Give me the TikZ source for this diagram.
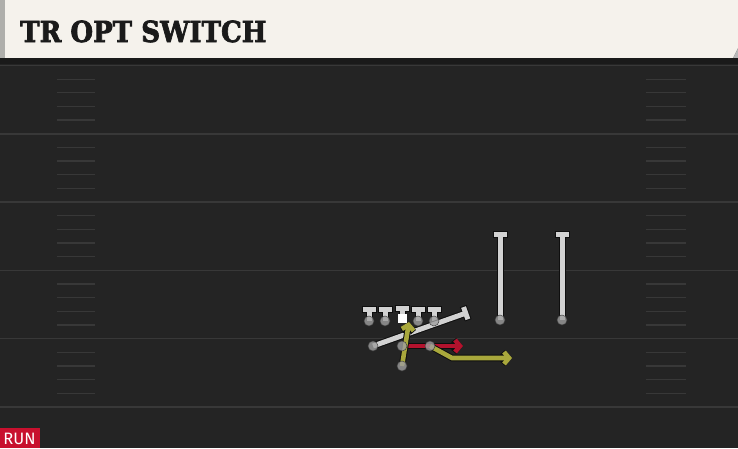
\documentclass[tikz,border=0pt]{standalone}
\usepackage{fontspec}
\usepackage{xcolor}
\usetikzlibrary{arrows.meta, positioning}
\newfontfamily\titlefont{DejaVu Serif}[UprightFont={* Bold}, UprightFeatures={FakeBold=2.5}]
\newfontfamily\tagfont{Fira Sans}
\definecolor{field}{HTML}{242424}
\definecolor{band}{HTML}{1A1A1A}
\definecolor{yardline}{HTML}{383838}
\definecolor{paper}{HTML}{F5F2EC}
\definecolor{paperedge}{HTML}{AFAFAB}
\definecolor{ink}{HTML}{1A1A1A}
\definecolor{edge}{HTML}{0E0E0E}
\definecolor{lightroute}{HTML}{D2D2D2}
\definecolor{redroute}{HTML}{B3122D}
\definecolor{oliveroute}{HTML}{A9A83C}
\definecolor{runred}{HTML}{C8102E}

\tikzset{
  block/.style={draw=#1, line width=5pt, -{Bar[width=13pt, sep=1pt]},
    preaction={draw=edge, line width=7pt, -{Bar[width=15pt]}}},
  run/.style={draw=#1, line width=4.6pt, line join=miter,
    -{Straight Barb[length=5pt, width=12pt]},
    preaction={draw=edge, line width=6.6pt, line join=miter,
      -{Straight Barb[length=5pt, width=12pt]}}},
  player/.style={circle, inner sep=0pt, minimum size=10pt, fill=gray!75,
    draw=gray!50!black, line width=0.5pt, fill opacity=0.8},
  ballbox/.style={rectangle, inner sep=0pt, minimum size=9pt, fill=white}
}

\begin{document}
\begin{tikzpicture}[x=1pt, y=-1pt]
    \useasboundingbox (0,0) rectangle (738,448);
    \fill[field] (0,0) rectangle (738,448);

    % title bar
    \fill[paperedge] (0,0) rectangle (5,58);
    \fill[paper] (5,0) -- (738,0) -- (738,48) -- (733,58) -- (5,58) -- cycle;
    \fill[gray!55] (738,48) -- (733,58) -- (738,58) -- cycle;
    \fill[band] (0,58) rectangle (738,64);
    \node[anchor=base west, inner sep=0pt, text=ink,
      font=\titlefont\fontsize{29}{29}\selectfont] (title) at (20,42) {\scalebox{0.9}[1]{TR OPT SWITCH}};

    % yard lines and hash marks
    \foreach \k in {0,...,5}
      \draw[yardline, line width=1.5pt] (0,65.5+68.3*\k) -- (738,65.5+68.3*\k);
    \foreach \k in {0,...,4}
      \foreach \j in {1,...,4} {
        \draw[yardline, line width=1.3pt] (57,65.5+68.3*\k+13.66*\j) -- (95,65.5+68.3*\k+13.66*\j);
        \draw[yardline, line width=1.3pt] (646,65.5+68.3*\k+13.66*\j) -- (686,65.5+68.3*\k+13.66*\j);
      }

    % players
    \coordinate (lt) at (369,321);
    \coordinate (lg) at (385,321);
    \coordinate (c)  at (402,318);
    \coordinate (rg) at (418,321);
    \coordinate (rt) at (434,321);
    \coordinate (wr1) at (500,320);
    \coordinate (wr2) at (562,320);
    \coordinate (h)  at (373,346);
    \coordinate (qb) at (402,346);
    \coordinate (sl) at (430,346);
    \coordinate (rb) at (402,366);

    % route ends
    \coordinate (ltB) at (369,306);
    \coordinate (lgB) at (385,306);
    \coordinate (cB)  at (402,305);
    \coordinate (rgB) at (418,306);
    \coordinate (rtB) at (434,306);
    \coordinate (wr1B) at (500,231);
    \coordinate (wr2B) at (562,231);
    \coordinate (hB) at (469,312);
    \coordinate (qbE) at (463,346);
    \coordinate (slK) at (452,358);
    \coordinate (slE) at (512,358);
    \coordinate (rbE) at (409,322);

    \foreach \p in {lt,lg,c,rg,rt,wr1,wr2,h}
      \draw[block=lightroute] (\p) -- (\p B);
    \draw[run=redroute] (qb) -- (qbE);
    \draw[run=oliveroute] (sl) -- (slK) -- (slE);
    \draw[run=oliveroute] (rb) -- (rbE);

    \foreach \p in {lt,lg,rg,rt,wr1,wr2,h,qb,sl,rb}
      \node[player] (\p P) at (\p) {};
    \node[ballbox] (ball) at (c) {};

    % play type tag
    \fill[runred] (0,428) rectangle (40,448);
    \node[text=white, inner sep=0pt, font=\tagfont\fontsize{16.5}{16.5}\selectfont] (tag) at (19.5,438.5) {RUN};
\end{tikzpicture}
\end{document}
